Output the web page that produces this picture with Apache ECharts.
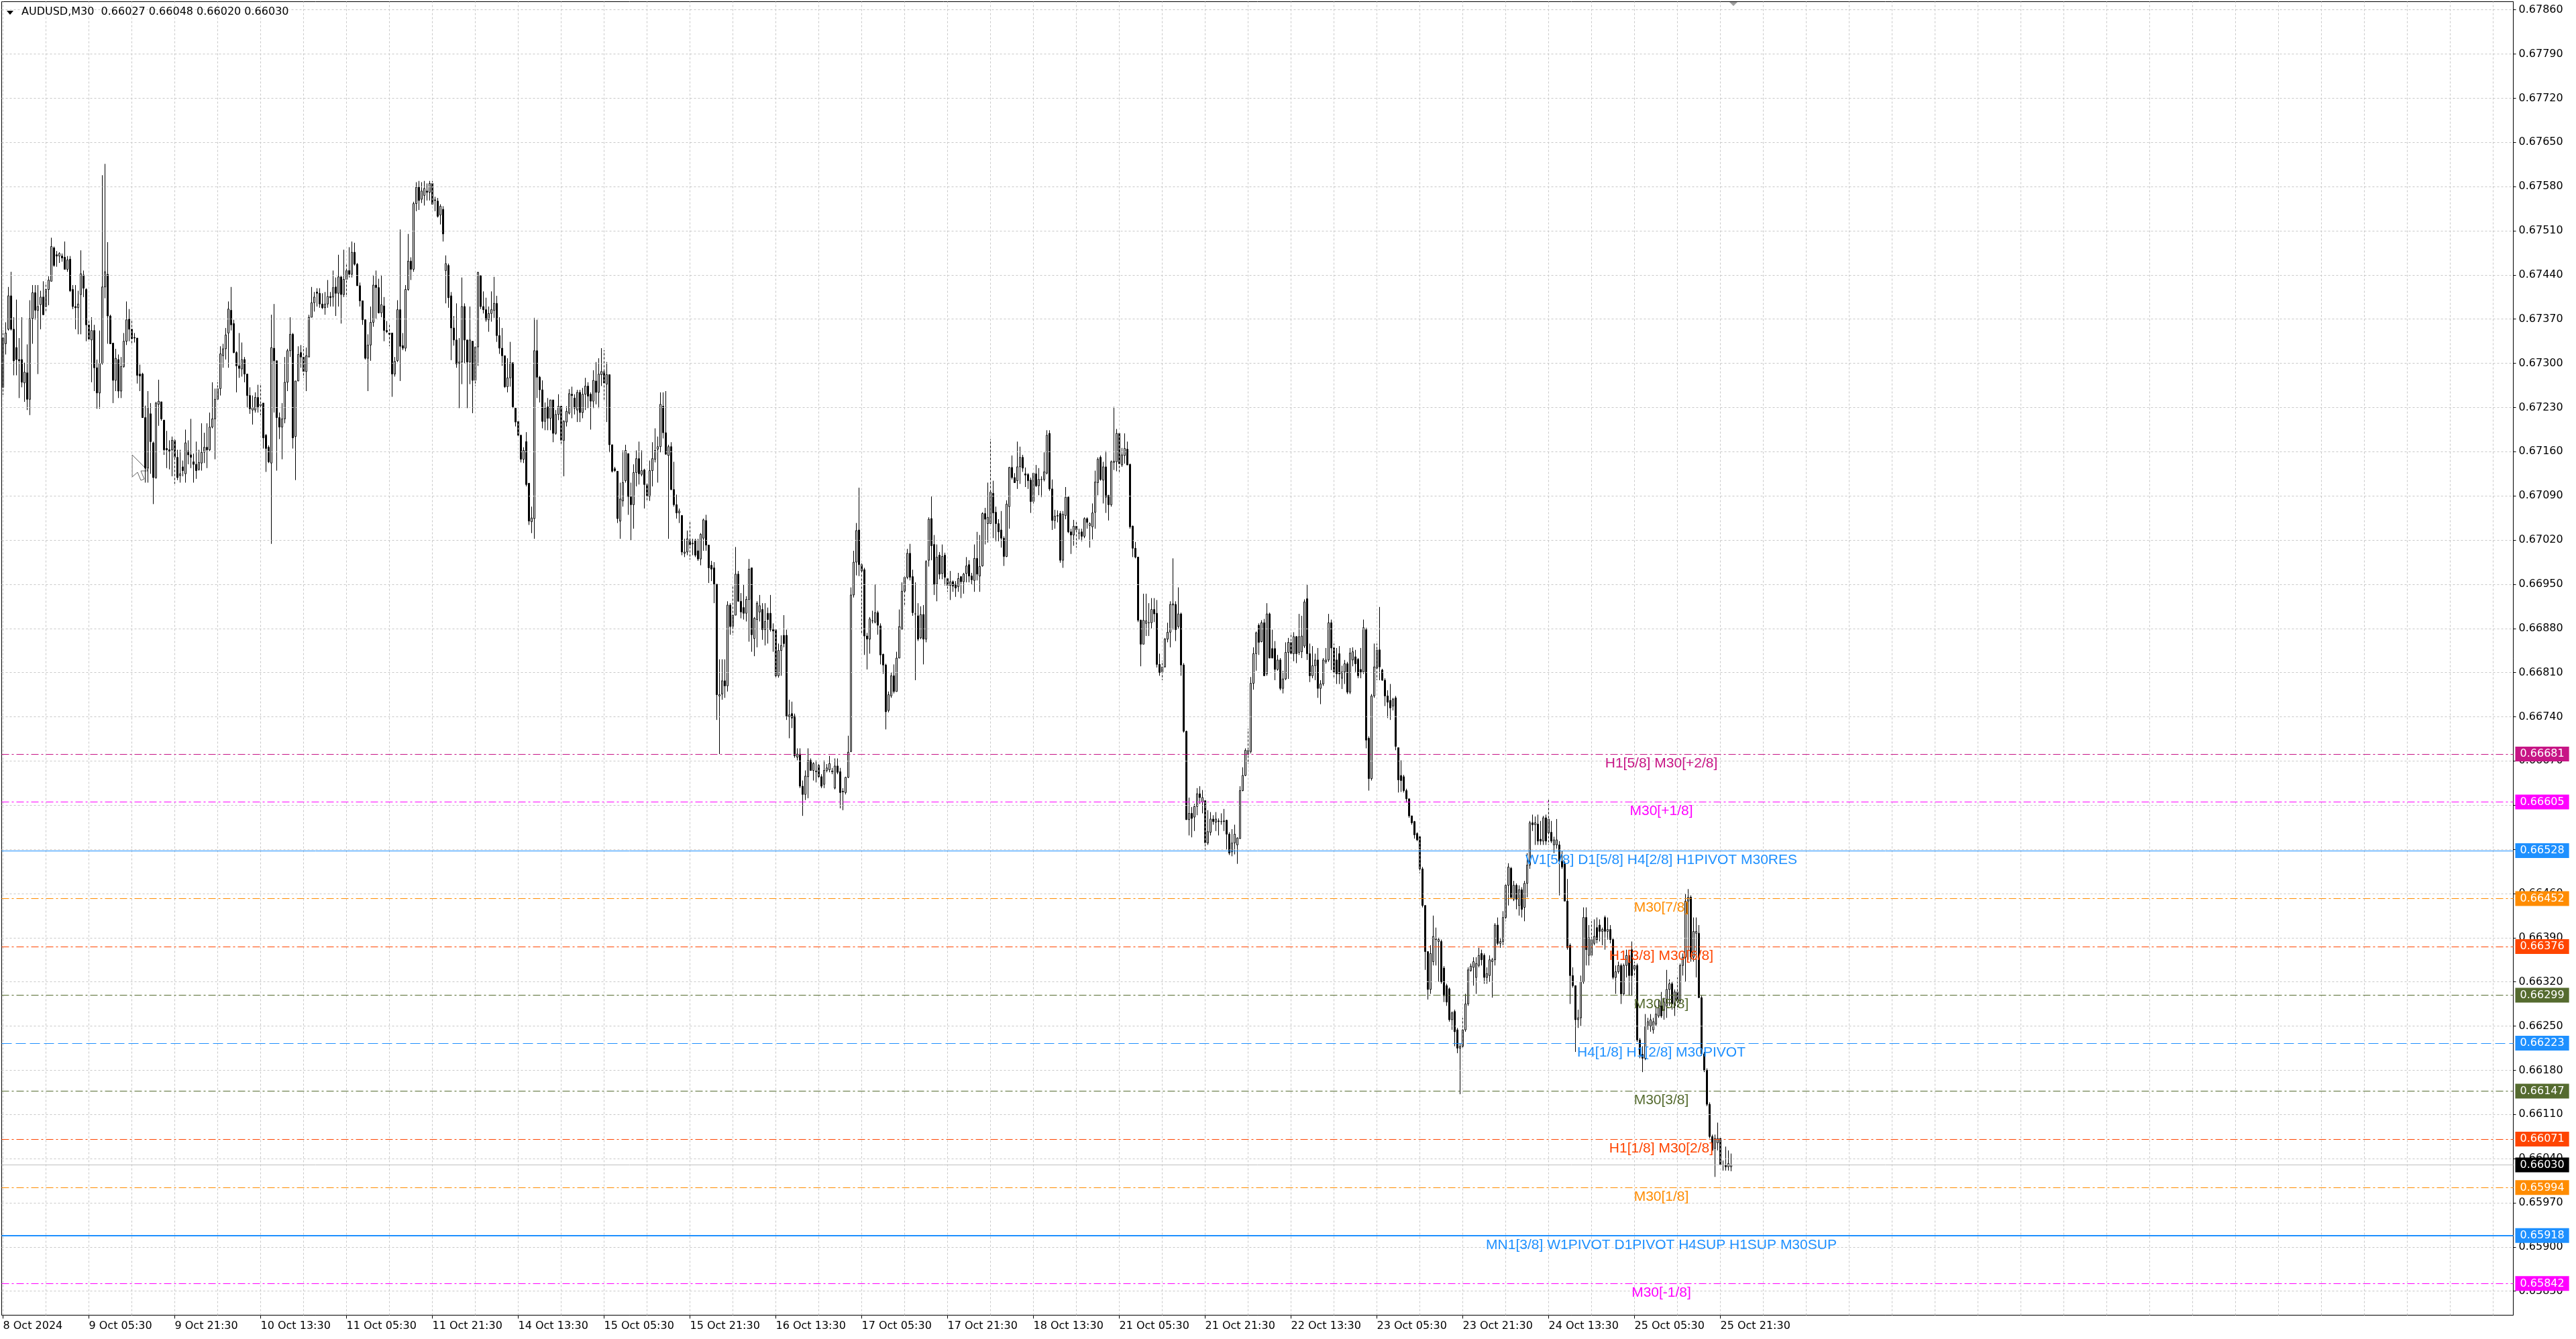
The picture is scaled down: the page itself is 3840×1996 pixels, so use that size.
<!DOCTYPE html>
<html>
<head>
<meta charset="utf-8">
<script src="https://cdn.jsdelivr.net/npm/echarts@6/dist/echarts.min.js"></script>
<style>
html,body{margin:0;padding:0;background:#ffffff;}
#chart{width:3840px;height:1996px;}
</style>
</head>
<body>
<div id="chart"></div>
<script>
// ---------------- DATA ----------------
const symbolName = 'AUDUSD';
const timeframe = 'M30';
// x tick labels, one every 32 bars (16 hours of M30 bars)
const xLabels = ['8 Oct 2024','9 Oct 05:30','9 Oct 21:30','10 Oct 13:30','11 Oct 05:30','11 Oct 21:30',
  '14 Oct 13:30','15 Oct 05:30','15 Oct 21:30','16 Oct 13:30','17 Oct 05:30','17 Oct 21:30','18 Oct 13:30',
  '21 Oct 05:30','21 Oct 21:30','22 Oct 13:30','23 Oct 05:30','23 Oct 21:30','24 Oct 13:30','25 Oct 05:30','25 Oct 21:30'];
// y tick labels
const yTicks = [0.67860,0.67790,0.67720,0.67650,0.67580,0.67510,0.67440,0.67370,0.67300,0.67230,
  0.67160,0.67090,0.67020,0.66950,0.66880,0.66810,0.66740,0.66670,0.66600,0.66530,0.66460,0.66390,
  0.66320,0.66250,0.66180,0.66110,0.66040,0.65970,0.65900,0.65830];
// OHLC in points (price x 100000), bar 0 = 8 Oct 13:30, last = 25 Oct 23:30
const openPts = [
67262,67331,67354,67407,67354,67325,67306,67306,67269,67285,67243,67371,67412,67384,67393,67405,
67390,67417,67430,67483,67472,67470,67470,67468,67449,67465,67417,67390,67388,67409,67440,67417,
67361,67337,67352,67293,67253,67300,67421,67441,67375,67332,67273,67306,67256,67295,67335,67370,
67354,67341,67340,67283,67283,67214,67134,67220,67174,67119,67235,67239,67210,67165,67163,67163,
67178,67151,67122,67136,67125,67161,67155,67144,67140,67132,67142,67159,67167,67163,67199,67212,
67243,67260,67312,67323,67348,67384,67363,67317,67296,67291,67306,67283,67249,67226,67226,67246,
67235,67237,67186,67167,67142,67324,67304,67214,67199,67212,67270,67320,67346,67184,67272,67317,
67310,67287,67310,67373,67396,67413,67411,67394,67388,67394,67406,67405,67421,67411,67437,67409,
67433,67447,67441,67476,67457,67423,67399,67369,67308,67329,67365,67424,67420,67380,67391,67352,
67348,67348,67283,67304,67385,67328,67324,67417,67462,67449,67553,67579,67560,67566,67573,67571,
67585,67559,67557,67535,67544,67447,67455,67407,67356,67337,67300,67302,67390,67337,67302,67335,
67273,67326,67439,67390,67385,67369,67379,67384,67395,67344,67324,67312,67263,67277,67301,67229,
67208,67186,67148,67176,67110,67049,67054,67320,67278,67258,67208,67231,67213,67242,67189,67219,
67232,67178,67207,67221,67251,67245,67226,67254,67222,67251,67264,67251,67240,67272,67254,67282,
67287,67267,67282,67171,67133,67129,67050,67082,67114,67157,67089,67076,67127,67149,67124,67131,
67108,67089,67130,67148,67164,67168,67232,67190,67154,67168,67100,67076,67063,67059,66999,67001,
67020,67014,67020,67003,66990,67023,67051,67012,66980,66976,66950,66773,66776,66797,66789,66917,
66883,66901,66966,66923,66913,66904,66926,66976,66864,66894,66906,66910,66878,66904,66904,66878,
66878,66805,66845,66869,66869,66740,66745,66741,66676,66681,66630,66617,66645,66671,66655,66654,
66663,66645,66633,66655,66656,66654,66627,66662,66653,66622,66620,66644,66685,66933,66985,67036,
66981,66973,66868,66863,66892,66890,66905,66884,66839,66822,66750,66773,66805,66780,66833,66879,
66939,66961,66999,66962,66903,66900,66865,66902,66863,66988,67054,67013,66950,66996,66967,66996,
66959,66948,66954,66950,66946,66962,66954,66967,66981,66963,66956,66991,66963,66979,67062,67046,
67046,67094,67064,67046,67036,67023,66994,67073,67135,67119,67114,67136,67151,67125,67124,67115,
67081,67125,67106,67116,67116,67126,67189,67101,67051,67058,67062,66988,67059,67088,67033,67028,
67042,67031,67033,67026,67054,67043,67041,67064,67111,67151,67115,67136,67091,67076,67143,67144,
67189,67139,67154,67164,67140,67042,67007,66993,66893,66855,66888,66889,66889,66910,66904,66823,
66810,66819,66863,66874,66917,66918,66883,66903,66822,66717,66577,66587,66581,66598,66618,66605,
66607,66540,66557,66578,66573,66575,66574,66575,66576,66554,66526,66540,66537,66547,66623,66647,
66680,66685,66793,66840,66885,66859,66889,66808,66903,66848,66848,66815,66830,66785,66800,66842,
66858,66840,66867,66842,66843,66852,66927,66840,66805,66821,66830,66785,66792,66827,66830,66889,
66849,66830,66840,66801,66811,66824,66779,66830,66835,66831,66815,66811,66878,66706,66642,66773,
66817,66846,66814,66798,66773,66766,66757,66770,66691,66647,66645,66623,66610,66583,66574,66555,
66550,66499,66441,66368,66308,66352,66387,66384,66384,66342,66314,66309,66260,66273,66244,66215,
66218,66244,66285,66338,66343,66327,66346,66365,66362,66327,66330,66352,66355,66410,66381,66384,
66422,66473,66500,66451,66473,66441,66466,66438,66476,66505,66572,66569,66570,66546,66543,66580,
66556,66557,66537,66537,66537,66511,66508,66448,66378,66330,66314,66260,66263,66320,66422,66362,
66362,66381,66406,66410,66400,66422,66400,66403,66387,66327,66336,66346,66301,66346,66362,66371,
66340,66346,66228,66205,66199,66250,66250,66244,66253,66266,66282,66276,66282,66308,66317,66282,
66304,66290,66346,66359,66448,66454,66359,66397,66397,66295,66206,66180,66126,66075,66056,66065,
66072,66030,66030,66027,66027];
const highPts = [
67352,67365,67421,67445,67373,67401,67340,67373,67301,67330,67400,67424,67424,67424,67415,67430,
67428,67438,67499,67485,67478,67476,67474,67493,67470,67470,67424,67424,67415,67479,67447,67419,
67369,67373,67361,67306,67352,67598,67616,67492,67377,67332,67323,67314,67310,67348,67398,67386,
67369,67348,67340,67298,67285,67233,67256,67237,67176,67239,67274,67239,67210,67193,67178,67184,
67180,67163,67163,67146,67195,67178,67212,67157,67176,67163,67205,67190,67205,67222,67270,67260,
67270,67327,67331,67356,67398,67421,67369,67319,67348,67333,67310,67283,67262,67249,67254,67266,
67268,67237,67188,67170,67377,67394,67304,67222,67237,67310,67323,67373,67348,67272,67327,67329,
67327,67325,67377,67421,67413,67419,67419,67411,67413,67432,67413,67447,67436,67472,67438,67480,
67457,67484,67493,67491,67459,67428,67399,67369,67346,67390,67440,67447,67434,67440,67405,67367,
67361,67348,67310,67400,67512,67348,67424,67505,67468,67556,67587,67589,67587,67589,67585,67589,
67589,67564,67562,67552,67549,67471,67458,67413,67375,67395,67340,67436,67395,67337,67390,67335,
67326,67445,67439,67414,67404,67390,67414,67437,67407,67373,67356,67312,67308,67334,67301,67229,
67208,67187,67167,67191,67110,67073,67372,67369,67280,67273,67238,67245,67242,67242,67226,67251,
67232,67210,67232,67259,67263,67251,67258,67258,67261,67277,67270,67254,67289,67302,67308,67324,
67321,67302,67282,67171,67136,67129,67111,67162,67171,67157,67111,67140,67162,67176,67162,67133,
67110,67146,67175,67197,67184,67254,67254,67256,67171,67175,67144,67092,67070,67059,67022,67035,
67050,67022,67022,67022,67031,67054,67060,67012,66987,66985,66950,66831,66831,66831,66923,66920,
66949,67009,66971,66936,66949,66931,66990,66976,66898,66923,66933,66920,66920,66913,66933,66888,
66878,66856,66869,66901,66878,66767,66764,66745,66690,66690,66639,66655,66690,66674,66668,66671,
66665,66649,66671,66665,66678,66659,66674,66674,66659,66627,66645,66710,66945,67003,67047,67103,
66983,66976,66873,66898,66908,66950,66908,66888,66840,66824,66780,66810,66823,66843,66910,66953,
66963,67006,67014,66973,66953,66920,66915,66917,66988,67056,67089,67028,67013,67001,67013,67000,
66961,66971,66956,66955,66968,66963,66968,66993,66988,66968,67013,67033,67028,67064,67071,67111,
67180,67114,67073,67053,67066,67026,67083,67136,67154,67126,67176,67168,67155,67135,67126,67119,
67126,67139,67134,67121,67159,67194,67194,67116,67068,67067,67066,67066,67104,67089,67038,67052,
67049,67038,67038,67056,67056,67048,67078,67130,67151,67154,67144,67161,67091,67146,67231,67196,
67189,67166,67189,67176,67141,67043,67017,66993,66894,66935,66935,66920,66928,66928,66925,66840,
66829,66865,66889,66923,66991,66923,66945,66905,66825,66718,66612,66597,66602,66627,66630,66624,
66607,66592,66589,66584,66589,66579,66587,66594,66577,66557,66562,66569,66549,66630,66660,66690,
66721,66803,66850,66875,66888,66893,66895,66920,66905,66878,66860,66838,66833,66813,66858,66865,
66873,66874,66868,66903,66900,66926,66950,66856,66852,66840,66849,66798,66833,66849,66903,66894,
66856,66849,66852,66821,66830,66827,66849,66850,66846,66833,66849,66894,66881,66709,66776,66856,
66856,66914,66816,66801,66782,66792,66770,66773,66691,66671,66648,66626,66610,66583,66575,66557,
66551,66502,66441,66368,66378,66425,66406,66390,66387,66345,66317,66311,66273,66276,66247,66222,
66263,66301,66343,66349,66359,66359,66374,66371,66365,66343,66362,66358,66413,66422,66390,66432,
66476,66508,66502,66480,66476,66473,66470,66480,66524,66575,66585,66582,66585,66575,66583,66585,
66610,66575,66550,66578,66543,66527,66511,66483,66381,66343,66314,66276,66330,66438,66438,66410,
66416,66419,66422,66419,66406,66425,66422,66410,66390,66346,66352,66349,66349,66371,66371,66384,
66352,66349,66231,66218,66269,66263,66269,66263,66282,66292,66304,66295,66339,66324,66320,66308,
66327,66349,66365,66460,66467,66457,66422,66422,66410,66298,66209,66183,66129,66078,66078,66097,
66075,66037,66059,66053,66048];
const lowPts = [
67250,67314,67352,67352,67281,67281,67245,67262,67239,67226,67218,67331,67369,67283,67354,67377,
67382,67392,67430,67453,67453,67459,67461,67449,67445,67413,67386,67354,67346,67346,67405,67335,
67335,67270,67256,67228,67228,67298,67403,67331,67331,67237,67256,67245,67245,67293,67329,67335,
67329,67333,67268,67256,67214,67111,67111,67125,67077,67117,67201,67209,67155,67134,67132,67121,
67109,67115,67111,67121,67111,67140,67134,67111,67117,67130,67130,67142,67134,67161,67197,67148,
67241,67249,67293,67306,67293,67352,67316,67254,67277,67279,67270,67230,67220,67203,67222,67222,
67218,67165,67128,67142,67014,67222,67130,67180,67148,67205,67256,67310,67165,67115,67272,67293,
67277,67256,67310,67373,67382,67390,67388,67386,67377,67388,67390,67390,67375,67390,67363,67405,
67405,67436,67436,67455,67423,67390,67361,67306,67256,67304,67358,67371,67379,67373,67335,67348,
67327,67247,67279,67302,67272,67321,67319,67415,67432,67445,67541,67543,67554,67550,67558,67558,
67552,67541,67531,67520,67493,67395,67388,67305,67328,67293,67229,67267,67300,67229,67267,67221,
67264,67296,67386,67379,67366,67350,67366,67372,67334,67315,67296,67261,67254,67263,67229,67200,
67184,67143,67142,67105,67044,67031,67022,67245,67238,67197,67194,67194,67194,67175,67187,67210,
67172,67121,67200,67219,67213,67219,67207,67207,67213,67226,67229,67195,67229,67235,67229,67264,
67242,67207,67159,67127,67128,67047,67022,67073,67111,67060,67019,67038,67105,67108,67121,67070,
67082,67082,67105,67143,67111,67159,67181,67155,67022,67099,67073,67054,67047,66996,66993,66996,
66989,66996,66993,66987,66980,67003,67003,66952,66955,66920,66735,66681,66767,66770,66780,66870,
66869,66901,66923,66896,66894,66891,66859,66843,66836,66850,66891,66862,66853,66856,66875,66843,
66802,66802,66805,66850,66735,66706,66722,66675,66671,66627,66583,66608,66611,66655,66639,66636,
66643,66627,66627,66652,66652,66649,66625,66649,66595,66592,66617,66643,66684,66929,66964,66963,
66870,66838,66815,66840,66888,66888,66870,66823,66808,66720,66747,66770,66777,66780,66833,66878,
66915,66958,66956,66900,66798,66860,66863,66823,66858,66978,66988,66933,66923,66958,66958,66948,
66938,66925,66938,66930,66938,66928,66935,66953,66953,66950,66938,66956,66938,66978,67013,67016,
67046,67023,67018,67018,67008,66979,66993,67038,67116,67111,67101,67109,67128,67104,67101,67063,
67078,67104,67091,67088,67113,67124,67098,67036,67038,67048,66984,66976,67053,67031,66998,67011,
67008,67021,67018,67023,67038,67008,67021,67038,67091,67114,67078,67063,67051,67073,67131,67129,
67126,67136,67141,67139,67038,66993,66991,66890,66820,66855,66868,66868,66880,66890,66818,66805,
66798,66818,66858,66850,66878,66860,66880,66805,66715,66577,66552,66549,66559,66584,66602,66587,
66529,66537,66552,66569,66559,66552,66569,66559,66530,66521,66519,66522,66507,66547,66622,66646,
66665,66682,66783,66813,66838,66858,66805,66805,66833,66833,66798,66813,66782,66777,66798,66800,
66840,66828,66825,66838,66833,66849,66830,66795,66801,66798,66770,66760,66789,66824,66827,66814,
66801,66792,66792,66784,66792,66776,66776,66820,66811,66801,66801,66808,66690,66623,66639,66770,
66798,66798,66797,66757,66738,66735,66750,66687,66620,66621,66620,66604,66580,66569,66547,66543,
66492,66438,66339,66292,66301,66346,66346,66320,66317,66288,66282,66257,66244,66218,66207,66142,
66215,66241,66282,66336,66314,66301,66343,66346,66317,66317,66320,66295,66346,66378,66374,66378,
66416,66441,66451,66448,66435,66425,66422,66416,66454,66499,66559,66537,66537,66537,66537,66537,
66537,66540,66524,66531,66457,66499,66448,66371,66285,66311,66209,66247,66250,66317,66346,66346,
66359,66378,66381,66384,66378,66371,66387,66381,66324,66301,66333,66285,66298,66327,66298,66298,
66327,66225,66199,66177,66196,66244,66241,66238,66250,66263,66263,66260,66263,66282,66276,66266,
66276,66285,66330,66320,66355,66352,66352,66327,66295,66203,66177,66123,66072,66053,66011,66053,
66029,66021,66021,66021,66020];
const closePts = [
67340,67348,67407,67354,67304,67306,67304,67270,67286,67243,67371,67412,67384,67390,67405,67377,
67417,67432,67485,67455,67470,67474,67467,67449,67464,67415,67390,67388,67394,67442,67419,67361,
67338,67352,67293,67253,67300,67421,67445,67375,67331,67273,67308,67256,67295,67335,67369,67354,
67339,67340,67281,67280,67214,67134,67230,67176,67119,67237,67240,67212,67163,67163,67161,67178,
67151,67119,67125,67130,67174,67155,67151,67140,67130,67143,67159,67167,67163,67199,67212,67243,
67260,67315,67323,67345,67386,67361,67317,67296,67292,67306,67283,67249,67228,67230,67246,67231,
67233,67182,67165,67144,67325,67304,67214,67199,67212,67270,67320,67346,67182,67272,67314,67310,
67287,67312,67373,67396,67405,67411,67394,67388,67394,67406,67404,67420,67411,67437,67409,67433,
67447,67441,67476,67457,67423,67399,67369,67308,67329,67365,67424,67420,67380,67393,67352,67350,
67346,67283,67303,67385,67327,67324,67417,67462,67449,67553,67579,67558,67573,67577,67571,67585,
67552,67558,67533,67549,67505,67458,67404,67356,67337,67299,67302,67390,67337,67302,67337,67273,
67326,67444,67390,67385,67369,67379,67385,67395,67344,67324,67312,67263,67277,67301,67231,67207,
67186,67148,67162,67108,67050,67055,67320,67278,67258,67208,67229,67213,67242,67189,67219,67232,
67178,67208,67224,67252,67249,67229,67254,67222,67251,67264,67248,67240,67273,67254,67283,67287,
67269,67282,67171,67129,67130,67054,67085,67111,67162,67089,67076,67127,67149,67125,67130,67108,
67089,67130,67149,67162,67168,67235,67190,67156,67168,67100,67076,67063,67066,67001,67001,67022,
67012,67015,66996,66990,67029,67052,67012,66976,66974,66950,66775,66775,66797,66789,66917,66883,
66901,66966,66923,66906,66904,66926,66974,66870,66896,66920,66916,66878,66891,66894,66878,66876,
66805,66845,66853,66856,66741,66743,66738,66678,66681,66630,66617,66646,66671,66655,66666,66653,
66645,66630,66655,66659,66666,66653,66662,66652,66620,66621,66644,66684,66933,66985,67035,66981,
66971,66868,66863,66895,66892,66905,66885,66838,66822,66748,66775,66805,66780,66833,66883,66939,
66961,66999,66961,66905,66903,66863,66902,66863,66986,67053,67011,66950,66993,66966,66994,66961,
66948,66954,66947,66944,66959,66954,66966,66979,66963,66957,66991,66966,66978,67062,67053,67056,
67096,67063,67046,67033,67023,66994,67077,67135,67119,67111,67136,67151,67134,67123,67114,67081,
67126,67106,67116,67116,67128,67186,67101,67051,67058,67059,66988,67061,67088,67033,67028,67042,
67036,67031,67026,67054,67048,67046,67063,67112,67148,67116,67136,67088,67076,67144,67145,67189,
67141,67155,67165,67139,67041,67007,66993,66893,66855,66893,66892,66889,66910,66903,66823,66810,
66819,66863,66874,66918,66919,66878,66903,66822,66717,66577,66587,66579,66598,66618,66612,66612,
66540,66558,66578,66574,66578,66574,66574,66574,66554,66524,66540,66554,66548,66623,66647,66687,
66687,66793,66840,66873,66858,66889,66805,66903,66833,66833,66815,66830,66785,66800,66842,66858,
66840,66867,66840,66867,66868,66922,66840,66805,66821,66830,66785,66792,66830,66830,66889,66849,
66811,66808,66808,66811,66824,66779,66841,66843,66824,66805,66811,66881,66703,66642,66773,66819,
66846,66819,66798,66773,66763,66754,66768,66693,66640,66639,66623,66610,66583,66572,66553,66545,
66499,66441,66368,66308,66365,66392,66389,66387,66320,66298,66288,66260,66271,66241,66215,66218,
66244,66285,66339,66345,66352,66349,66362,66355,66327,66333,66355,66355,66410,66381,66384,66422,
66473,66502,66454,66473,66451,66466,66435,66476,66505,66572,66569,66572,66543,66543,66580,66543,
66578,66543,66545,66545,66511,66502,66448,66374,66330,66314,66260,66263,66320,66422,66371,66390,
66387,66392,66387,66400,66403,66400,66403,66387,66327,66336,66346,66301,66346,66362,66330,66330,
66346,66228,66205,66199,66250,66257,66260,66257,66269,66279,66266,66288,66308,66317,66285,66304,
66290,66346,66359,66448,66454,66359,66400,66400,66295,66206,66180,66126,66075,66053,66072,66072,
66030,66030,66027,66032,66030];
// Murrey-math / pivot levels drawn on the chart
const levelValues = [0.66681,0.66605,0.66528,0.66452,0.66376,0.66299,0.66223,0.66147,0.66071,0.65994,0.65918,0.65842];
const levelTexts = ['H1[5/8] M30[+2/8]','M30[+1/8]','W1[5/8] D1[5/8] H4[2/8] H1PIVOT M30RES','M30[7/8]',
  'H1[3/8] M30[6/8]','M30[5/8]','H4[1/8] H1[2/8] M30PIVOT','M30[3/8]','H1[1/8] M30[2/8]','M30[1/8]',
  'MN1[3/8] W1PIVOT D1PIVOT H4SUP H1SUP M30SUP','M30[-1/8]'];

// ---------------- STYLES ----------------
const DASHDOT = [11,4,3,4], DASHED = [15,6];
const levelStyles = [
  {color:'#C71585', type:DASHDOT, width:1},
  {color:'#FF00FF', type:DASHDOT, width:1},
  {color:'#1E90FF', type:'solid', width:1},
  {color:'#FF8C00', type:DASHDOT, width:1},
  {color:'#FF4500', type:DASHDOT, width:1},
  {color:'#556B2F', type:DASHDOT, width:1},
  {color:'#1E90FF', type:DASHED, width:1},
  {color:'#556B2F', type:DASHDOT, width:1},
  {color:'#FF4500', type:DASHDOT, width:1},
  {color:'#FF8C00', type:DASHDOT, width:1},
  {color:'#1E90FF', type:'solid', width:2},
  {color:'#FF00FF', type:DASHDOT, width:1}
];
const AXIS_FONT = 'DejaVu Sans';
const TEXT_FONT = 'Liberation Sans, Arial, sans-serif';
const TOTAL_SLOTS = 936;     // visible bar slots across the plot
const LABEL_EVERY = 32, GRID_EVERY = 16, TEXT_SLOT = 618;

// ---------------- BUILD ----------------
const nBars = closePts.length;
const P = v => v / 100000;
const ohlc = [];
for (let i = 0; i < nBars; i++) {
  ohlc.push([P(openPts[i]), P(closePts[i]), P(lowPts[i]), P(highPts[i])]);
}
const categories = [];
for (let i = 0; i < TOTAL_SLOTS; i++) categories.push(String(i));
const lastIdx = nBars - 1;
const lastClose = P(closePts[lastIdx]);
const fmt = v => v.toFixed(5);
const titleText = symbolName + ',' + timeframe + '  ' + fmt(P(openPts[lastIdx])) + ' ' + fmt(P(highPts[lastIdx])) + ' ' +
  fmt(P(lowPts[lastIdx])) + ' ' + fmt(lastClose);
const lastLabelIdx = (xLabels.length - 1) * LABEL_EVERY;

// grid lines as mark lines so they pass exactly through the tick positions
const gridLines = [];
yTicks.forEach(v => gridLines.push({yAxis: v}));
for (let i = 0; i < TOTAL_SLOTS; i += GRID_EVERY) gridLines.push({xAxis: i});

const boxLabel = (bg) => ({
  show: true, position: 'end', distance: 3, formatter: p => fmt(p.value),
  color: '#FFFFFF', backgroundColor: bg, padding: [3, 7, 2, 7],
  fontFamily: AXIS_FONT, fontSize: 16, lineHeight: 17
});
const levelLines = levelValues.map((v, i) => ({
  yAxis: v,
  lineStyle: {color: levelStyles[i].color, type: levelStyles[i].type, width: levelStyles[i].width},
  label: boxLabel(levelStyles[i].color)
}));
levelLines.push({
  yAxis: lastClose,
  lineStyle: {color: '#C0C0C0', type: 'solid', width: 1},
  label: boxLabel('#000000')
});
const levelTextPoints = levelValues.map((v, i) => ({
  coord: [TEXT_SLOT, v],
  label: {
    show: true, position: 'inside', offset: [0, 14], formatter: levelTexts[i],
    color: levelStyles[i].color, fontFamily: TEXT_FONT, fontSize: 21
  }
}));

const chart = echarts.init(document.getElementById('chart'), null, {renderer: 'canvas', width: 3840, height: 1996});
chart.setOption({
  animation: false,
  backgroundColor: '#FFFFFF',
  title: {
    text: titleText, left: 32, top: 10, padding: 0,
    textStyle: {fontFamily: AXIS_FONT, fontSize: 16, fontWeight: 'normal', color: '#000000'}
  },
  grid: {left: 2.5, top: 2.5, width: 3744, height: 1958, show: true, borderColor: '#000000', borderWidth: 1, containLabel: false},
  xAxis: {
    type: 'category', data: categories, boundaryGap: true,
    axisLine: {show: true, lineStyle: {color: '#000000', width: 1}},
    axisTick: {show: true, alignWithLabel: true, length: 5, interval: (i) => i % LABEL_EVERY === 0 && i <= lastLabelIdx,
      lineStyle: {color: '#000000'}},
    axisLabel: {
      show: true, interval: (i) => i % LABEL_EVERY === 0 && i <= lastLabelIdx,
      formatter: (v, i) => xLabels[i / LABEL_EVERY] || '',
      align: 'left', margin: 8, color: '#000000', fontFamily: AXIS_FONT, fontSize: 16
    },
    splitLine: {show: false}
  },
  yAxis: {
    type: 'value', position: 'right', scale: true,
    min: 0.657919, max: 0.678730,
    axisLine: {show: true, lineStyle: {color: '#000000', width: 1}},
    axisTick: {show: true, inside: false, length: 4, customValues: yTicks, lineStyle: {color: '#000000'}},
    axisLabel: {show: true, customValues: yTicks, formatter: v => fmt(v), margin: 8, color: '#000000',
      fontFamily: AXIS_FONT, fontSize: 16},
    splitLine: {show: false}
  },
  series: [
    {
      name: 'grid', type: 'line', data: [], z: 1, silent: true, clip: false,
      markLine: {
        silent: true, symbol: ['none', 'none'], animation: false, precision: 5,
        label: {show: false},
        lineStyle: {color: '#C8C8C8', type: [3, 3], width: 1},
        emphasis: {disabled: true},
        data: gridLines
      }
    },
    {
      name: 'levels', type: 'line', data: [], z: 2, silent: true, clip: false,
      markLine: {
        silent: true, symbol: ['none', 'none'], animation: false, precision: 5,
        emphasis: {disabled: true},
        data: levelLines
      },
      markPoint: {
        silent: true, symbol: 'circle', symbolSize: 0, animation: false,
        itemStyle: {color: 'transparent'},
        data: levelTextPoints
      }
    },
    {
      name: symbolName, type: 'candlestick', data: ohlc, z: 3, large: false, barWidth: 2,
      silent: true, clip: true,
      itemStyle: {color: '#FFFFFF', color0: '#000000', borderColor: '#000000', borderColor0: '#000000', borderWidth: 1}
    }
  ],
  graphic: [
    {type: 'polygon', shape: {points: [[10, 16], [20, 16], [15, 22]]}, style: {fill: '#000000'}},
    {type: 'polygon', shape: {points: [[2578, 3], [2590, 3], [2584, 9]]}, style: {fill: '#A0A0A0'}},
    {type: 'polygon', x: 197, y: 678,
      shape: {points: [[0, 0], [0, 33], [8, 26], [13, 38], [18, 36], [13, 24], [24, 24]]},
      style: {fill: '#FFFFFF', stroke: '#606060', lineWidth: 1}}
  ]
});
</script>
</body>
</html>
